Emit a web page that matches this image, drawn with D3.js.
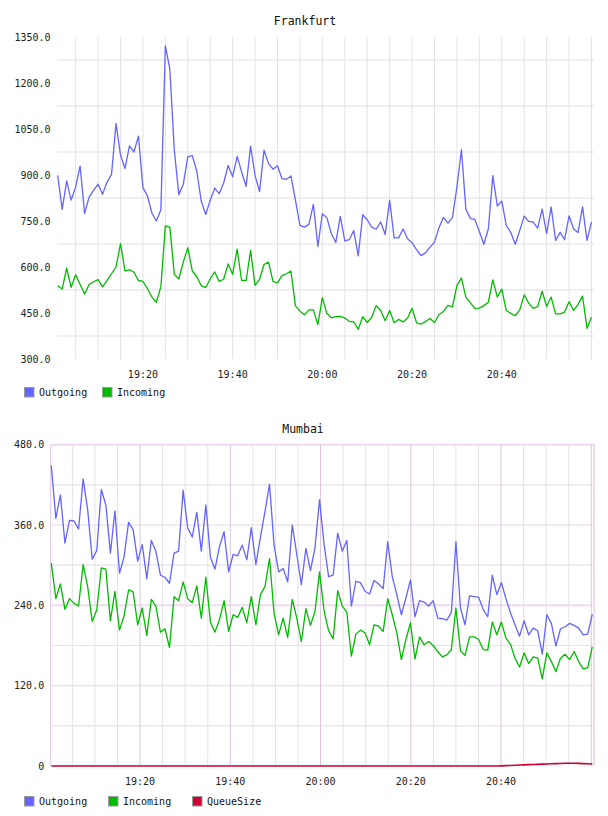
<!DOCTYPE html>
<html><head><meta charset="utf-8">
<script src="https://cdn.jsdelivr.net/npm/d3@7"></script>
<style>body{margin:0;background:#fff}svg{display:block}</style>
</head><body>
<script>
// ---------------- DATA ----------------
const seriesNames = ["Outgoing", "Incoming", "QueueSize"];
const seriesColors = ["#6464ff", "#00bb00", "#cc0033"];

// Frankfurt: one sample per minute
const frankfurtStart = "19:01:00";
const frankfurtStepSec = 60;
const frankfurtOutgoing = [899,788,881,818,861,929,774,828,850,870, 837,877,902,1068,965,921,995,975,1027,859,
  832,776,750,787,1321,1245,981,836,870,959, 963,913,815,771,818,857,839,874,931,894,
  961,910,863,994,898,846,981,937,919,930, 888,886,897,818,736,730,739,804,667,774,
  761,709,680,765,685,689,719,636,771,754, 730,723,747,706,818,695,695,724,692,679,
  657,637,646,665,681,728,762,743,761,861, 983,788,758,755,716,674,724,898,799,815,
  736,713,674,719,766,749,746,727,789,709, 796,687,713,689,767,725,712,796,687,747];
const frankfurtIncoming = [539,528,596,534,575,543,512,543,552,559, 535,556,578,600,676,587,591,583,556,553,
  529,502,485,536,734,730,576,561,616,663, 587,569,539,533,561,584,553,560,610,576,
  658,556,556,654,540,560,608,616,553,548, 572,578,587,473,456,444,460,460,412,500,
  449,434,438,439,434,423,421,397,438,419, 436,474,458,425,458,418,429,421,434,465,
  418,414,422,432,419,445,455,475,470,540, 564,502,483,465,466,474,485,558,502,528,
  458,449,441,460,509,482,465,471,521,471, 502,447,447,453,487,458,478,505,400,436];

// Mumbai
const mumbaiStart = "19:00:20";
const mumbaiStepSec = 60.45;
const mumbaiOutgoing = [449,370,405,333,367,366,354,429,383,309, 322,413,390,318,381,288,312,364,353,306,
  331,280,337,321,285,282,273,318,321,412, 356,342,379,321,390,312,294,328,350,290,
  316,314,330,308,356,301,342,380,421,330, 290,295,275,360,316,271,325,292,326,398,
  331,283,285,348,321,337,239,276,274,261, 257,277,272,265,335,283,256,226,251,278,
  223,247,245,239,247,221,220,218,229,335, 236,211,254,253,252,234,223,285,256,274,
  250,229,211,194,217,196,206,202,167,226, 213,179,205,208,213,210,206,196,197,227];
const mumbaiIncoming = [303,250,272,234,250,243,239,301,268,216, 233,296,294,217,261,203,224,263,260,211,
  236,195,249,239,200,205,177,253,247,275, 250,244,269,221,282,215,200,219,247,201,
  226,222,237,214,253,211,256,268,310,228, 196,221,192,249,221,186,235,210,231,290,
  232,202,190,262,239,230,164,197,203,199, 181,211,209,201,250,226,199,159,189,214,
  160,193,181,186,180,171,163,166,174,236, 172,165,193,193,189,174,173,215,196,215,
  191,182,161,148,169,153,163,161,130,169, 156,141,161,167,159,171,156,145,147,178];
const mumbaiQueue = [0,0,0,0,0,0,0,0,0,0, 0,0,0,0,0,0,0,0,0,0,
  0,0,0,0,0,0,0,0,0,0, 0,0,0,0,0,0,0,0,0,0,
  0,0,0,0,0,0,0,0,0,0, 0,0,0,0,0,0,0,0,0,0,
  0,0,0,0,0,0,0,0,0,0, 0,0,0,0,0,0,0,0,0,0,
  0,0,0,0,0,0,0,0,0,0, 0,0,0,0,0,0,0,0,0,0.2,
  0.5,0.8,1.1,1.4,1.7,2.0,2.3,2.5,2.8,3.0, 3.3,3.6,3.8,4.0,4.0,4.0,3.9,3.6,3.3,3.1];

const xTickLabels = ["19:20", "19:40", "20:00", "20:20", "20:40"];
const frankfurtYTicks = [1350, 1200, 1050, 900, 750, 600, 450, 300];
const frankfurtYTickLabels = ["1350.0","1200.0","1050.0","900.0","750.0","600.0","450.0","300.0"];
const mumbaiYTicks = [480, 360, 240, 120, 0];
const mumbaiYTickLabels = ["480.0","360.0","240.0","120.0","0"];

// ---------------- HELPERS ----------------
function clock(s){ const p=s.split(":").map(Number); return new Date(2020,0,1,p[0],p[1],p[2]||0); }
function times(start, stepSec, n){ const t0=clock(start).getTime(); return d3.range(n).map(i=>new Date(t0+i*stepSec*1000)); }

const svg = d3.select("body").append("svg").attr("width",608).attr("height",816);
const mono = "'DejaVu Sans Mono', monospace";

function chart(o){
  const g = svg.append("g");
  const n = o.series[0].values.length;
  const ts = times(o.start, o.step, n);
  const x = d3.scaleTime().domain(d3.extent(ts)).range([o.x0, o.x1]);
  const y = d3.scaleLinear().domain(o.yDomain).range([o.b, o.t]);
  const tMin = x.invert(o.l), tMax = x.invert(o.r);
  const minor = d3.timeMinute.every(5).range(tMin, tMax);

  // horizontal grid
  o.hgrid.forEach(hg=>{
    g.append("line").attr("x1",o.l).attr("x2",o.r).attr("y1",y(hg.v)).attr("y2",y(hg.v))
      .attr("stroke",hg.c).attr("stroke-width",hg.w);
  });
  // vertical grid
  minor.forEach(d=>{
    const major = d.getMinutes()%20===0;
    g.append("line").attr("x1",x(d)).attr("x2",x(d)).attr("y1",o.t).attr("y2",o.b)
      .attr("stroke", major ? o.vMajor : o.vMinor).attr("stroke-width",1);
  });
  if (o.frame){
    g.append("line").attr("x1",o.l).attr("x2",o.l).attr("y1",o.t).attr("y2",o.b).attr("stroke",o.frame.left).attr("stroke-width",1);
    g.append("line").attr("x1",o.r).attr("x2",o.r).attr("y1",o.t-1).attr("y2",o.b).attr("stroke",o.frame.right).attr("stroke-width",2);
  }
  // lines
  o.series.forEach(s=>{
    const line = d3.line().x((d,i)=>x(ts[i])).y(d=>y(d));
    g.append("path").attr("d",line(s.values)).attr("fill","none")
      .attr("stroke",s.color).attr("stroke-width",s.w||1.3).attr("stroke-linejoin","round");
  });
  // y tick labels
  o.yTicks.forEach((v,i)=>{
    g.append("text").attr("x",o.l-6.5).attr("y",y(v)).attr("dy","0.36em")
      .attr("text-anchor","end").attr("font-family",mono).attr("font-size",10).attr("fill","#222")
      .text(o.yLabels[i]);
  });
  // x tick labels
  xTickLabels.forEach(lbl=>{
    g.append("text").attr("x",x(clock(lbl))).attr("y",o.b+18.5).attr("text-anchor","middle")
      .attr("font-family",mono).attr("font-size",10).attr("fill","#222").text(lbl);
  });
  // title
  g.append("text").attr("x",o.titleX).attr("y",o.titleY).attr("text-anchor","middle")
    .attr("font-family",mono).attr("font-size",11.5).attr("fill","#111").text(o.title);
  // legend
  o.series.forEach((s,i)=>{
    const lx = o.legendX[i];
    g.append("rect").attr("x",lx+0.5).attr("y",o.legendY+0.5).attr("width",9.5).attr("height",9.5)
      .attr("fill",s.color).attr("stroke","#9a9a9a").attr("stroke-width",1);
    g.append("text").attr("x",lx+15).attr("y",o.legendY+8.5).attr("font-family",mono)
      .attr("font-size",10).attr("fill","#111").text(s.name);
  });
}

chart({
  title:"Frankfurt", titleX:305, titleY:24.5,
  start:frankfurtStart, step:frankfurtStepSec,
  l:57, r:594, t:37, b:359, x0:57.7, x1:591.5,
  yDomain:[300,1350], yTicks:frankfurtYTicks, yLabels:frankfurtYTickLabels,
  hgrid:d3.range(375,1350,150).map(v=>({v, c:"#efefef", w:2})),
  vMajor:"#e4e4e4", vMinor:"#e4e4e4",
  series:[{name:seriesNames[0],color:seriesColors[0],values:frankfurtOutgoing},
          {name:seriesNames[1],color:seriesColors[1],values:frankfurtIncoming}],
  legendX:[24,102], legendY:387
});

chart({
  title:"Mumbai", titleX:303, titleY:433,
  start:mumbaiStart, step:mumbaiStepSec,
  l:50.7, r:594, t:444.7, b:766, x0:51.3, x1:592.3,
  yDomain:[0,480], yTicks:mumbaiYTicks, yLabels:mumbaiYTickLabels,
  hgrid:[480,420,360,300,240,180,120,60].map(v=>({v, c: v%120===0 ? "#f0dcf0" : "#e6e2e6", w: (v===480||v===240) ? 2 : 1.2})),
  vMajor:"#dcc6dc", vMinor:"#e8e2e8",
  frame:{left:"#dcc6dc", right:"#f0dcf0"},
  series:[{name:seriesNames[0],color:seriesColors[0],values:mumbaiOutgoing},
          {name:seriesNames[1],color:seriesColors[1],values:mumbaiIncoming},
          {name:seriesNames[2],color:seriesColors[2],values:mumbaiQueue,w:1.6}],
  legendX:[24,108,192], legendY:796
});
</script>
</body></html>
